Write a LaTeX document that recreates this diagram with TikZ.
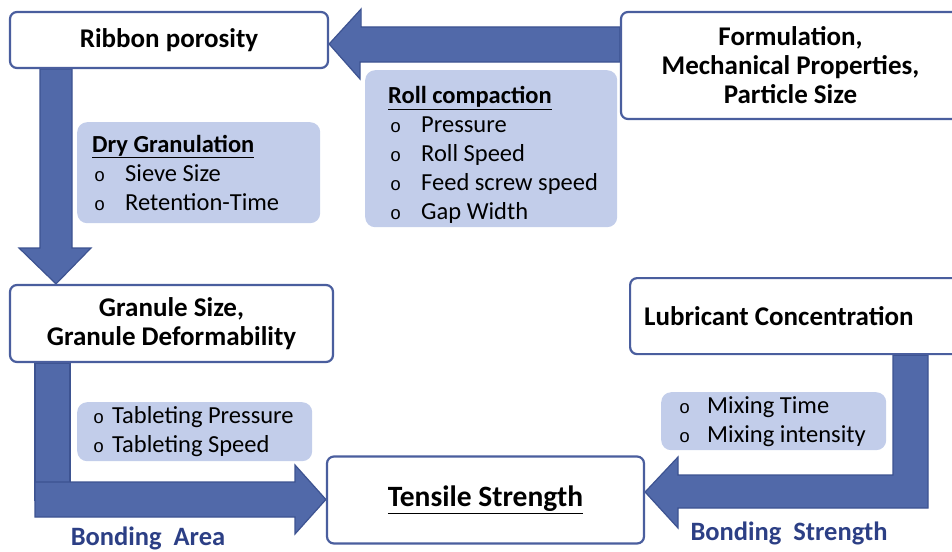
\documentclass[tikz,border=0pt]{standalone}
\usepackage{fontspec}
\setmainfont{Carlito}
\newfontfamily\bulletfont{Liberation Mono}
\usetikzlibrary{positioning,calc,backgrounds}
\definecolor{boxblue}{HTML}{4A5E9E}
\definecolor{infoblue}{HTML}{C2CDEA}
\definecolor{arrowblue}{HTML}{5169A9}
\definecolor{arrowedge}{HTML}{3D5391}
\definecolor{labelblue}{HTML}{2C3F85}
\newcommand{\itm}[2][31pt]{\mbox{\hspace*{2pt}\makebox[#1][l]{\bulletfont\fontsize{18.5}{29}\selectfont o}#2}}

\begin{document}
\begin{tikzpicture}[
  x=1pt, y=-1pt,
  mainbox/.style={draw=boxblue, line width=2.2pt, rounded corners=7pt, fill=white,
    font=\bfseries\fontsize{27}{29}\selectfont, align=center, inner sep=0pt},
  infobox/.style={fill=infoblue, rounded corners=10pt, anchor=north west,
    font=\fontsize{24.5}{29}\selectfont, align=flush left, inner ysep=0pt},
  bigarrow/.style={fill=arrowblue, draw=arrowedge, line width=1.2pt},
  bondlabel/.style={font=\bfseries\fontsize{26.5}{29}\selectfont, text=labelblue, anchor=base}
]
  \useasboundingbox (0,0) rectangle (952,551);

  \node[mainbox, minimum width=318, minimum height=56] (ribbon) at (169,40) {Ribbon porosity};
  \node[mainbox, minimum width=339, minimum height=107] (form) at (790.5,65.5)
    {Formulation,\\Mechanical Properties,\\Particle Size};
  \node[mainbox, minimum width=323, minimum height=77] (granule) at (171.5,323.5)
    {Granule Size,\\Granule Deformability};
  \node[mainbox, minimum width=317, minimum height=87, font=\bfseries\fontsize{29.5}{32}\selectfont]
    (tensile) at (485.5,500) {\underline{Tensile Strength}};
  \node[mainbox, anchor=north west, minimum height=76, text width=317, inner xsep=14pt,
    align=flush left] (lubric) at (629,277) {Lubricant Concentration};

  \node[infobox, minimum width=243, minimum height=101, inner xsep=15pt, text width=213]
    (dry) at (77,122) {\textbf{\underline{Dry Granulation}}\\\itm{Sieve Size}\\\itm{Retention-Time}};
  \node[infobox, minimum width=252, minimum height=157, inner xsep=23pt, text width=206]
    (roll) at (365,70) {\rule{0pt}{30pt}\textbf{\underline{Roll compaction}}\\\itm{Pressure}\\
    \itm{Roll Speed}\\\itm{Feed screw speed}\\\itm{Gap Width}};
  \node[infobox, minimum width=235, minimum height=59, inner xsep=14pt, text width=207]
    (tablet) at (77,402) {\itm[19pt]{Tableting Pressure}\\\itm[19pt]{Tableting Speed}};
  \node[infobox, minimum width=225, minimum height=58, inner xsep=16pt, text width=193]
    (mixing) at (661,392) {\itm[28pt]{Mixing Time}\\\itm[28pt]{Mixing intensity}};

  \node[bondlabel] (area) at (148,545) {Bonding\ \ Area};
  \node[bondlabel] (strength) at (789,540) {Bonding\ \ Strength};

  \begin{scope}[on background layer]
    \draw[bigarrow] ($(ribbon.east)+(0,4)$) -- ++(32,-35) -- ++(0,18) -- (form.west |- 0,27)
      -- (form.west |- 0,62) -- (360,62) -- (360,79) -- cycle;
    \draw[bigarrow] (40,0 |- ribbon.south) -- (40,248) -- (19,248) -- (56,0 |- granule.north)
      -- (91,248) -- (72,248) -- (72,0 |- ribbon.south) -- cycle;
    \draw[bigarrow] (35,0 |- granule.south) rectangle (70,500);
    \draw[bigarrow] (35,482) -- (295,482) -- (295,465) -- (tensile.west |- 0,499.5) -- (295,534)
      -- (295,517) -- (35,517) -- cycle;
    \draw[bigarrow] (893,0 |- lubric.south) -- (893,475) -- (678,475) -- (678,457)
      -- (tensile.east |- 0,492) -- (678,528) -- (678,508) -- (928,508)
      -- (928,0 |- lubric.south) -- cycle;
  \end{scope}
\end{tikzpicture}
\end{document}
